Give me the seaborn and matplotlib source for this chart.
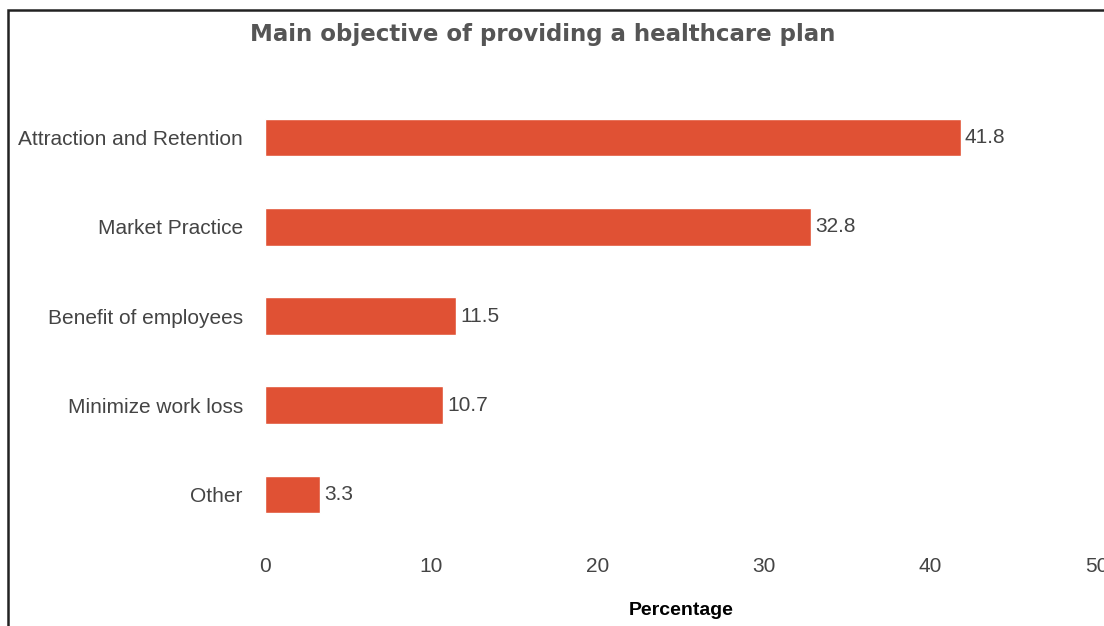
import pandas as pd
import matplotlib.pyplot as plt
import seaborn as sns
from matplotlib.patches import Rectangle

categories = ['Attraction and Retention', 'Market Practice', 'Benefit of employees',
              'Minimize work loss', 'Other']
values = [41.8, 32.8, 11.5, 10.7, 3.3]

df = pd.DataFrame({'objective': categories, 'pct': values})

sns.set_style('white')
plt.rcParams['font.family'] = ['Liberation Sans', 'DejaVu Sans']

fig = plt.figure(figsize=(11.04, 6.26), dpi=100)
ax = fig.add_axes([265 / 1104, 1 - 539 / 626, (1097 - 265) / 1104, (539 - 93) / 626])

sns.barplot(x='pct', y='objective', data=df, order=categories, color='#E05134',
            saturation=1, width=0.42, ax=ax)
ax.set_xlim(0, 50)
ax.set_ylim(4.5, -0.5)
ax.set_xticks([0, 10, 20, 30, 40, 50])
ax.tick_params(axis='both', length=0, labelsize=15, labelcolor='#444444')
ax.tick_params(axis='x', pad=13)
ax.tick_params(axis='y', pad=16)
for c in ax.containers:
    ax.bar_label(c, fmt='%.1f', padding=3, fontsize=15, color='#444444')
ax.set_ylabel('')
ax.set_xlabel('Percentage', fontsize=14, fontweight='bold', color='black', labelpad=19)
sns.despine(left=True, bottom=True)

fig.text(543 / 1104, 1 - 35 / 626, 'Main objective of providing a healthcare plan',
         ha='center', va='center', fontsize=16.5, fontweight='bold', color='#555555',
         family=['DejaVu Sans'])

fig.add_artist(Rectangle((8 / 1104, -0.1), 1.2, 1 - 10 / 626 + 0.1, transform=fig.transFigure,
                         fill=False, edgecolor='#222222', linewidth=1.8, clip_on=False))

plt.savefig('out.png', dpi=100)
